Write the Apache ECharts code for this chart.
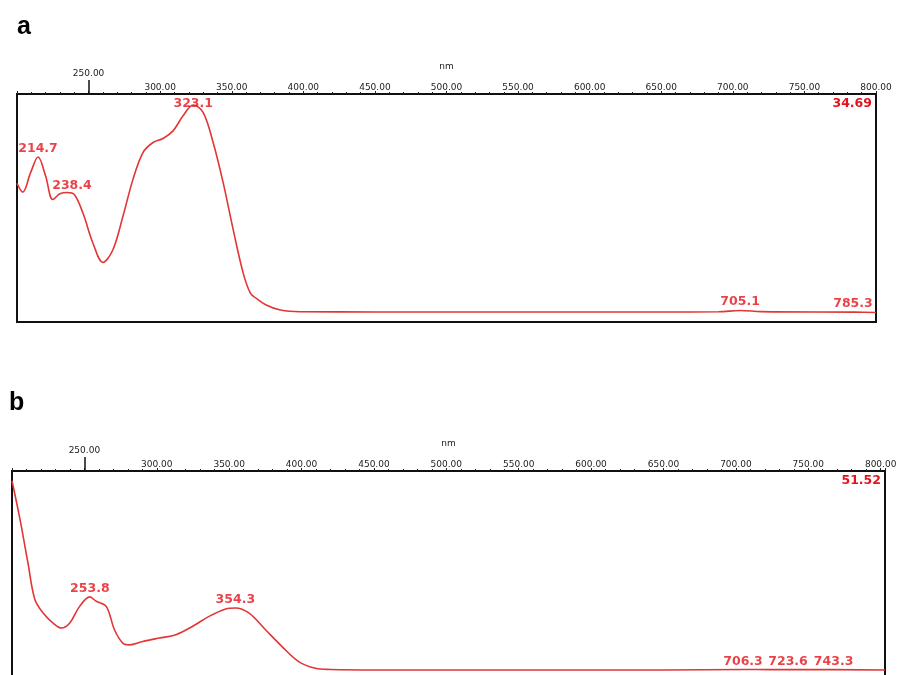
<!DOCTYPE html>
<html>
<head>
<meta charset="utf-8">
<script src="https://cdn.jsdelivr.net/npm/echarts@6/dist/echarts.min.js"></script>
<style>
html,body{margin:0;padding:0;background:#fff;}
#c{width:899px;height:675px;}
</style>
</head>
<body>
<div id="c"></div>
<script>
// ---------- data ----------
// Panel a
const nmA  = [200, 204, 209.5, 214.7, 220, 225, 230, 235, 240, 246, 253, 260, 267, 274, 281, 288, 295, 302, 309, 316, 323.1, 330, 337, 344, 351, 358, 363, 367, 374, 384, 398, 450, 550, 650, 690, 705.1, 720, 785.3, 800];
const absA = [21.09, 19.76, 22.72, 25.11, 22.2, 18.64, 19.5, 19.7, 19.4, 16.61, 12.03, 9.06, 11.0, 16.09, 21.7, 25.78, 27.31, 27.92, 29.08, 31.37, 33.01, 31.9, 27.31, 21.2, 14.06, 7.44, 4.39, 3.62, 2.6, 1.83, 1.57, 1.53, 1.53, 1.53, 1.55, 1.76, 1.58, 1.5, 1.45];
const peakNmA  = [214.7, 238.4, 323.1, 705.1, 785.3];
const peakAbsA = [25.11, 19.45, 33.01, 1.76, 1.5];
const yMaxA = 34.69;

// Panel b
const nmB  = [200, 205.5, 211, 215.8, 221.5, 228.4, 234.2, 239.9, 246.7, 253.8, 258.2, 265.1, 270.8, 276.5, 281.1, 290.3, 301.7, 313.2, 324.6, 336.1, 347.6, 354.3, 363.6, 375.1, 386.5, 398, 409.5, 420, 450, 550, 650, 706.3, 723.6, 743.3, 803];
const absB = [49.13, 39.69, 29.01, 19.97, 16.69, 14.22, 12.99, 14.22, 18.31, 20.63, 19.55, 18.31, 12.57, 9.29, 8.87, 9.69, 10.53, 11.34, 13.38, 15.85, 17.67, 17.92, 16.69, 12.57, 8.45, 4.76, 3.13, 2.83, 2.71, 2.71, 2.71, 2.83, 2.78, 2.80, 2.71];
const peakNmB  = [253.8, 354.3, 706.3, 723.6, 743.3];
const peakAbsB = [20.63, 17.92, 2.83, 2.78, 2.80];
const yMaxB = 51.52;

const xMin = 200, xMaxA = 800, xMaxB = 803, xStep = 50;
const panelNames = ['a', 'b'];
// -------------------------------------------------------------

const RED = '#e3141c';
const LINE = '#e23535';
const pairs = (xs, ys) => xs.map((x, i) => [x, ys[i]]);
const fmtTick = v => (v === 200 || v === 250 || v % 50 !== 0) ? '' : v.toFixed(2);

function mainX(gridIndex, max) {
  return {
    type: 'value', gridIndex, position: 'top', min: xMin, max, interval: xStep,
    name: 'nm', nameLocation: 'middle', nameGap: 23,
    nameTextStyle: { fontFamily: 'DejaVu Sans', fontSize: 9, color: '#222' },
    axisLine: { show: true, onZero: false, lineStyle: { color: '#111', width: 1.5 } },
    axisTick: { show: true, length: 3, lineStyle: { color: '#222', width: 1 } },
    minorTick: { show: true, splitNumber: 5, length: 2, lineStyle: { color: '#222', width: 1 } },
    splitLine: { show: false },
    axisLabel: { show: true, margin: 2, formatter: fmtTick, fontFamily: 'DejaVu Sans', fontSize: 9, color: '#222', showMaxLabel: true, showMinLabel: true, hideOverlap: false }
  };
}
function longTickX(gridIndex, max) {
  return {
    type: 'value', gridIndex, position: 'top', min: xMin, max, interval: xStep,
    axisLine: { show: false, onZero: false },
    axisTick: { show: true, customValues: [250], length: 14, lineStyle: { color: '#111', width: 1.5 } },
    minorTick: { show: false },
    axisLabel: { show: true, customValues: [250], margin: 16, formatter: v => v.toFixed(2), fontFamily: 'DejaVu Sans', fontSize: 9, color: '#222' },
    splitLine: { show: false }
  };
}
function yAx(gridIndex, max) {
  return {
    type: 'value', gridIndex, position: 'right', min: 0, max, interval: max,
    axisLine: { show: false, onZero: false }, axisTick: { show: false }, splitLine: { show: false },
    axisLabel: {
      show: true, inside: true, margin: 4,
      formatter: v => v === max ? max.toFixed(2) : '',
      verticalAlign: 'top', padding: [3, 0, 0, 0],
      fontFamily: 'DejaVu Sans', fontWeight: 'bold', fontSize: 12.5, color: RED
    }
  };
}

const labelStyle = { show: true, position: 'top', distance: 2, fontFamily: 'DejaVu Sans', fontWeight: 'bold', fontSize: 12.5, color: RED };
const offA = [[0, 0], [0, 0], [0, 7], [0, 0], [-2, 0]];
const offB = [[0, 0], [0, 0], [-2, 1], [18, 1], [35, 1]];

function peakSeries(xi, yi, xs, ys, offs) {
  return {
    type: 'scatter', xAxisIndex: xi, yAxisIndex: yi, symbolSize: 0, silent: true, z: 5,
    data: xs.map((x, i) => ({
      value: [x, ys[i]],
      label: Object.assign({}, labelStyle, { offset: offs[i], formatter: String(x.toFixed(1)) })
    }))
  };
}

const chart = echarts.init(document.getElementById('c'), null, { renderer: 'canvas' });
chart.setOption({
  animation: false,
  backgroundColor: '#fff',
  title: [
    { text: panelNames[0], left: 12, top: 10, textStyle: { fontFamily: 'Liberation Sans', fontWeight: 'bold', fontSize: 25, color: '#000' } },
    { text: panelNames[1], left: 4, top: 386, textStyle: { fontFamily: 'Liberation Sans', fontWeight: 'bold', fontSize: 25, color: '#000' } }
  ],
  grid: [
    { left: 17, top: 94, width: 859, height: 228, outerBoundsMode: 'none', containLabel: false, show: true, borderColor: '#111', borderWidth: 2, backgroundColor: 'transparent' },
    { left: 12, top: 471, width: 873, height: 210, outerBoundsMode: 'none', containLabel: false, show: true, borderColor: '#111', borderWidth: 2, backgroundColor: 'transparent' }
  ],
  xAxis: [mainX(0, xMaxA), longTickX(0, xMaxA), mainX(1, xMaxB), longTickX(1, xMaxB)],
  yAxis: [yAx(0, yMaxA), yAx(1, yMaxB)],
  series: [
    { type: 'line', xAxisIndex: 0, yAxisIndex: 0, data: pairs(nmA, absA), smooth: 0.35, showSymbol: false, lineStyle: { color: LINE, width: 1.6 } },
    { type: 'line', xAxisIndex: 2, yAxisIndex: 1, data: pairs(nmB, absB), smooth: 0.35, showSymbol: false, lineStyle: { color: LINE, width: 1.6 } },
    peakSeries(0, 0, peakNmA, peakAbsA, offA),
    peakSeries(2, 1, peakNmB, peakAbsB, offB)
  ]
});
</script>
</body>
</html>
